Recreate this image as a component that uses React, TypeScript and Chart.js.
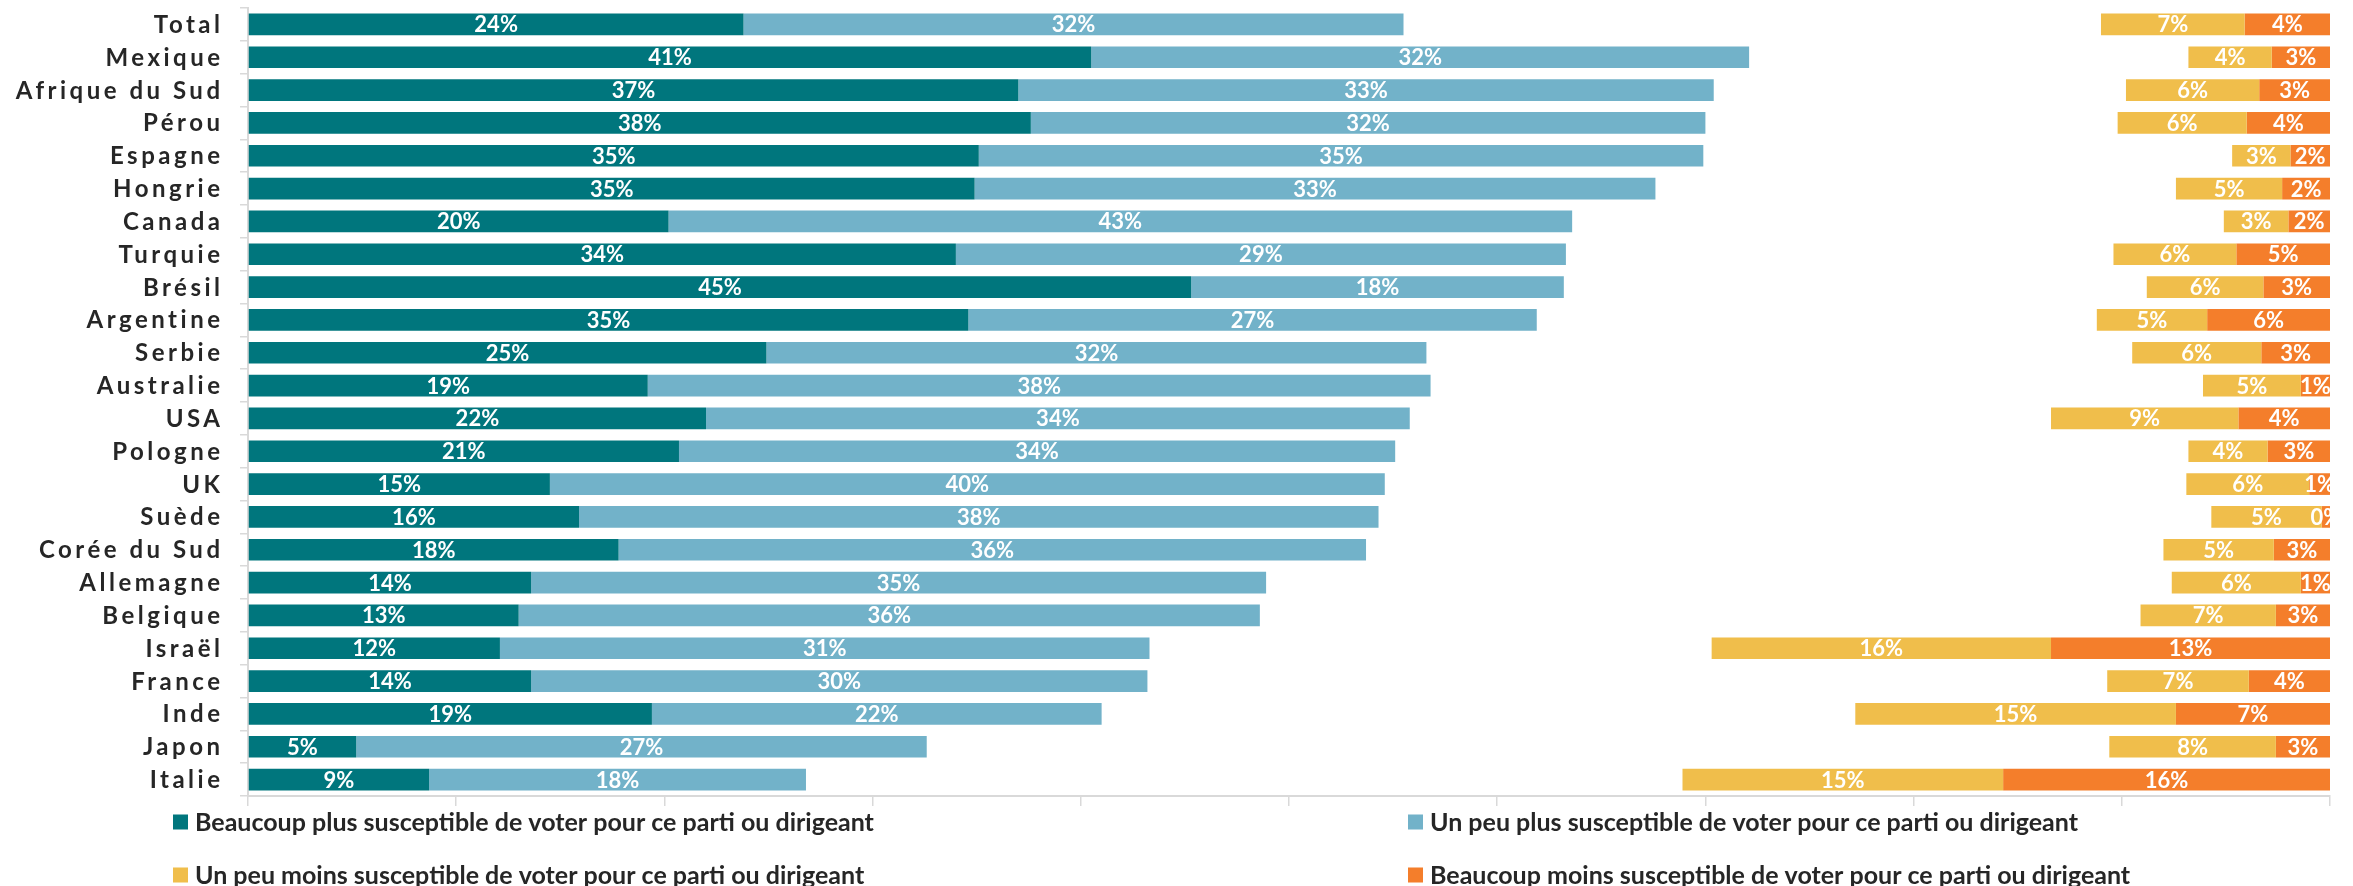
import React, { useEffect, useRef } from "react";
import { Chart, registerables } from "chart.js";

Chart.register(...registerables);

const categories = [
  "Total", "Mexique", "Afrique du Sud", "Pérou", "Espagne", "Hongrie", "Canada", "Turquie",
  "Brésil", "Argentine", "Serbie", "Australie", "USA", "Pologne", "UK", "Suède",
  "Corée du Sud", "Allemagne", "Belgique", "Israël", "France", "Inde", "Japon", "Italie",
];

const muchMoreLikely = [23.8, 40.5, 37.0, 37.6, 35.1, 34.9, 20.2, 34.0, 45.3, 34.6, 24.9, 19.2, 22.0, 20.7, 14.5, 15.9, 17.8, 13.6, 13.0, 12.1, 13.6, 19.4, 5.2, 8.7];
const somewhatMoreLikely = [31.7, 31.6, 33.4, 32.4, 34.8, 32.7, 43.4, 29.3, 17.9, 27.3, 31.7, 37.6, 33.8, 34.4, 40.1, 38.4, 35.9, 35.3, 35.6, 31.2, 29.6, 21.6, 27.4, 18.1];
const somewhatLessLikely = [6.9, 4.0, 6.4, 6.2, 2.8, 5.1, 3.1, 5.9, 5.6, 5.3, 6.2, 4.7, 9.0, 3.8, 5.9, 5.3, 5.3, 6.2, 6.5, 16.3, 6.8, 15.4, 8.0, 15.4];
const muchLessLikely = [4.1, 2.8, 3.4, 4.0, 1.9, 2.3, 2.0, 4.5, 3.2, 5.9, 3.3, 1.4, 4.4, 3.0, 1.0, 0.4, 2.7, 1.4, 2.6, 13.4, 3.9, 7.4, 2.6, 15.7];

const seriesNames = [
  "Beaucoup plus susceptible de voter pour ce parti ou dirigeant",
  "Un peu plus susceptible de voter pour ce parti ou dirigeant",
  "Un peu moins susceptible de voter pour ce parti ou dirigeant",
  "Beaucoup moins susceptible de voter pour ce parti ou dirigeant",
];
const seriesColors = ["#00767D", "#72B2C9", "#F0BE4B", "#F47E2B"];

const AXIS_MAX = 100;
const xTicks = [0, 10, 20, 30, 40, 50, 60, 70, 80, 90, 100];

const spacer = categories.map(
  (_, i) => AXIS_MAX - muchMoreLikely[i] - somewhatMoreLikely[i] - somewhatLessLikely[i] - muchLessLikely[i]
);

const segmentLabels = {
  id: "segmentLabels",
  afterDatasetsDraw(chart: any) {
    const { ctx, chartArea } = chart;
    ctx.save();
    ctx.beginPath();
    ctx.rect(chartArea.left, chartArea.top, chartArea.right - chartArea.left, chartArea.bottom - chartArea.top);
    ctx.clip();
    ctx.font = "bold 22px Lato";
    ctx.fillStyle = "#ffffff";
    ctx.textAlign = "center";
    ctx.textBaseline = "alphabetic";
    chart.data.datasets.forEach((ds: any, di: number) => {
      if (ds.isSpacer) return;
      const meta = chart.getDatasetMeta(di);
      meta.data.forEach((bar: any, i: number) => {
        const p = bar.getProps(["x", "y", "base"], true);
        ctx.fillText(Math.round(ds.data[i]) + "%", (p.x + p.base) / 2, p.y + 8);
      });
    });
    ctx.restore();
  },
};

const categoryLabels = {
  id: "categoryLabels",
  afterDraw(chart: any) {
    const { ctx } = chart;
    const yScale = chart.scales.y;
    ctx.save();
    ctx.font = "bold 24px Lato";
    ctx.fillStyle = "#262626";
    ctx.textAlign = "right";
    ctx.textBaseline = "alphabetic";
    const spacing = 3.5;
    (ctx as any).letterSpacing = spacing + "px";
    categories.forEach((c, i) => {
      const y = yScale.getPixelForValue(i);
      ctx.fillText(c, 220 + spacing, y + 8.5);
    });
    ctx.restore();
  },
};

const customLegend = {
  id: "customLegend",
  afterDraw(chart: any) {
    const { ctx } = chart;
    ctx.save();
    ctx.font = "bold 25px Lato";
    ctx.textAlign = "left";
    ctx.textBaseline = "alphabetic";
    const cols = [173, 1408];
    const rows = [822, 875];
    [0, 1, 2, 3].forEach((si, k) => {
      const x = cols[k % 2];
      const y = rows[Math.floor(k / 2)];
      ctx.fillStyle = seriesColors[si];
      ctx.fillRect(x, y - 7.5, 15, 15);
      ctx.fillStyle = "#262626";
      ctx.fillText(seriesNames[si], x + 22, y + 9);
    });
    ctx.restore();
  },
};

export default function App() {
  const canvasRef = useRef<HTMLCanvasElement | null>(null);

  useEffect(() => {
    if (!canvasRef.current) return;
    const mk = (label: string, data: number[], color: string, extra: any = {}) => ({
      label,
      data,
      backgroundColor: color,
      borderWidth: 0,
      categoryPercentage: 1,
      barPercentage: 0.66,
      stack: "s",
      ...extra,
    });
    const chart = new Chart(canvasRef.current, {
      type: "bar",
      data: {
        labels: categories,
        datasets: [
          mk(seriesNames[0], muchMoreLikely, seriesColors[0]),
          mk(seriesNames[1], somewhatMoreLikely, seriesColors[1]),
          mk("spacer", spacer, "rgba(0,0,0,0)", { isSpacer: true }),
          mk(seriesNames[2], somewhatLessLikely, seriesColors[2]),
          mk(seriesNames[3], muchLessLikely, seriesColors[3]),
        ] as any,
      },
      options: {
        indexAxis: "y",
        responsive: false,
        animation: false,
        devicePixelRatio: 1,
        layout: { padding: { top: 8, right: 23, left: 0, bottom: 0 } },
        plugins: {
          legend: { display: false },
          tooltip: { enabled: false },
        },
        scales: {
          x: {
            type: "linear",
            stacked: true,
            min: 0,
            max: AXIS_MAX,
            afterBuildTicks: (s: any) => {
              s.ticks = xTicks.map((v) => ({ value: v }));
            },
            afterFit: (s: any) => {
              s.height = 90;
            },
            ticks: { display: false },
            grid: { drawOnChartArea: false, drawTicks: true, tickLength: 10, color: "#D9D9D9", lineWidth: 1.5 },
            border: { display: true, color: "#D9D9D9", width: 2 },
          },
          y: {
            type: "category",
            stacked: true,
            offset: true,
            afterFit: (s: any) => {
              s.width = 248;
            },
            ticks: { display: false },
            grid: { offset: true, drawOnChartArea: false, drawTicks: true, tickLength: 8, color: "#D9D9D9", lineWidth: 1.5 },
            border: { display: true, color: "#D9D9D9", width: 2 },
          },
        },
      } as any,
      plugins: [segmentLabels, categoryLabels, customLegend],
    });
    return () => chart.destroy();
  }, []);

  return (
    <div style={{ position: "absolute", left: 0, top: 0, width: 2353, height: 886, background: "#ffffff" }}>
      <canvas ref={canvasRef} width={2353} height={886} style={{ display: "block", width: 2353, height: 886 }} />
    </div>
  );
}
